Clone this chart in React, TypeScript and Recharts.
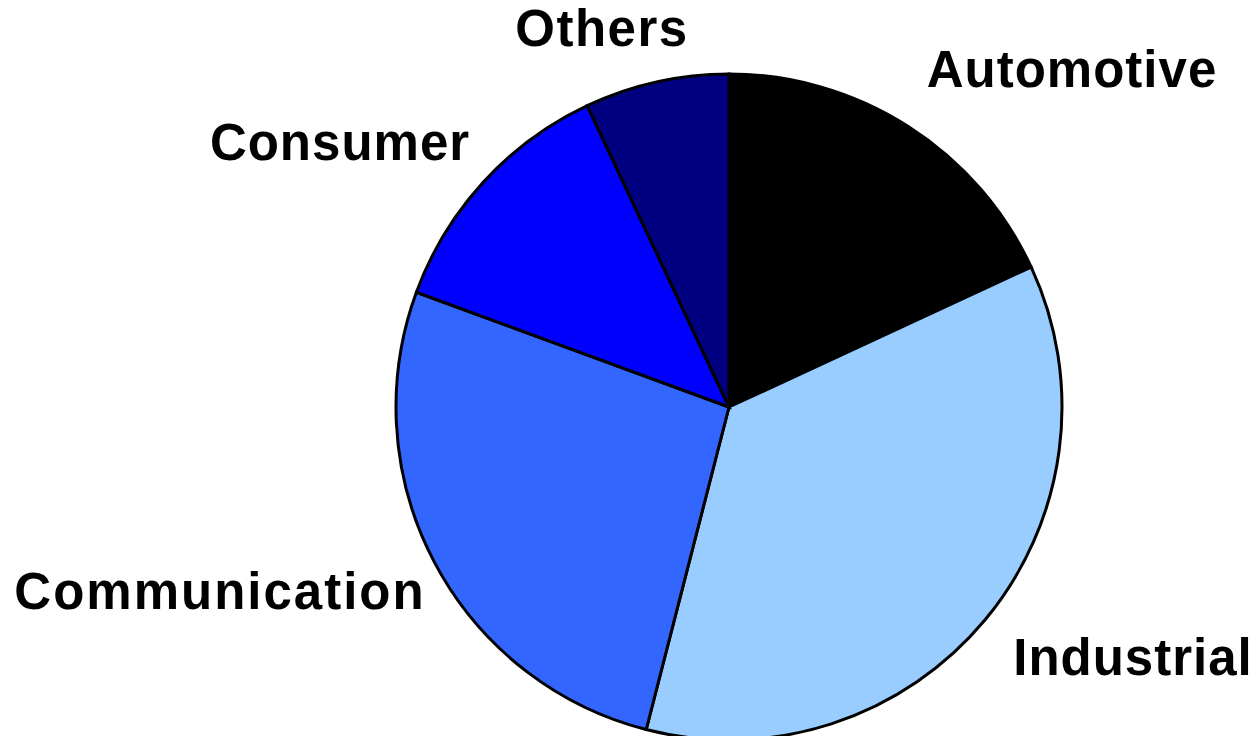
import { PieChart, Pie, Cell } from 'recharts';

// Market share by application segment (%)
const segments = ['Automotive', 'Industrial', 'Communication', 'Consumer', 'Others'];
const shares = [18.1, 35.9, 26.6, 12.4, 7.0];

const sliceColors = ['#000000', '#99CCFF', '#3366FF', '#0000FF', '#000080'];

// label placement relative to the pie centre (text centre x, baseline y)
const labelOffsets = [
  { dx: 343, dy: -320, spacing: 1 },
  { dx: 404, dy: 268, spacing: 1 },
  { dx: -509, dy: 202, spacing: 2 },
  { dx: -389, dy: -247, spacing: 1 },
  { dx: -127, dy: -361, spacing: 1.5 },
];

const data = segments.map((name, i) => ({ name, value: shares[i] }));

function renderLabel(props: any) {
  const { cx, cy, index, name } = props;
  const off = labelOffsets[index];
  return (
    <text
      x={cx + off.dx}
      y={cy + off.dy}
      textAnchor="middle"
      fill="#000"
      fontSize={51}
      fontWeight="bold"
      fontFamily="'Liberation Sans', Arial, sans-serif"
      letterSpacing={off.spacing}
    >
      {name}
    </text>
  );
}

export default function App() {
  return (
    <div style={{ position: 'absolute', left: 0, top: 0, background: '#fff' }}>
      <PieChart width={1256} height={736} margin={{ top: 0, right: 0, bottom: 0, left: 0 }}>
        <Pie
          data={data}
          dataKey="value"
          nameKey="name"
          cx={729}
          cy={407}
          outerRadius={333}
          startAngle={90}
          endAngle={-270}
          stroke="#000"
          strokeWidth={3}
          label={renderLabel}
          labelLine={false}
          isAnimationActive={false}
        >
          {data.map((d, i) => (
            <Cell key={d.name} fill={sliceColors[i]} />
          ))}
        </Pie>
      </PieChart>
    </div>
  );
}
